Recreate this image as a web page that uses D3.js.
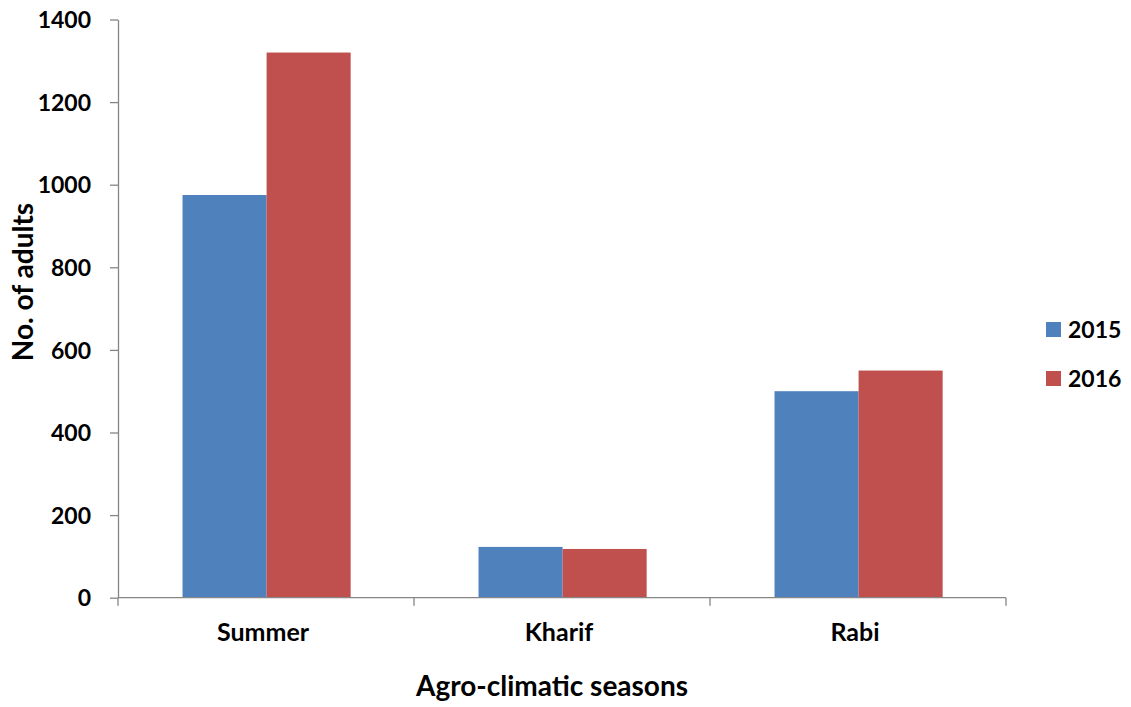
<!DOCTYPE html>
<html><head><meta charset="utf-8">
<script src="https://cdn.jsdelivr.net/npm/d3@7"></script>
<style>
html,body{margin:0;padding:0;background:#fff;}
text{font-family:Lato,"Open Sans",sans-serif;font-weight:bold;fill:#000;}
</style></head>
<body><svg id="c" width="1131" height="707"></svg>
<script>
const categories = ["Summer", "Kharif", "Rabi"];
const seriesNames = ["2015", "2016"];
const values2015 = [975, 123, 500];
const values2016 = [1320, 118, 550];
const yTicks = [0, 200, 400, 600, 800, 1000, 1200, 1400];
const colors = ["#4F81BD", "#C0504D"];

(function () {
const data = categories.map((c, i) => ({cat: c, vals: [values2015[i], values2016[i]]}));

const svg = d3.select("#c");
const mLeft = 118, mRight = 1006, mTop = 19.5, mBottom = 597.7;

const y = d3.scaleLinear().domain([0, 1400]).range([mBottom, mTop]);
const x0 = d3.scaleBand().domain(categories).range([mLeft, mRight]).padding(0);
const bw = x0.bandwidth();
const x1 = d3.scaleBand().domain(seriesNames).range([bw * 0.218, bw * 0.786]).padding(0);

// bars
const g = svg.append("g");
const groups = g.selectAll("g.grp").data(data).join("g")
  .attr("transform", d => `translate(${x0(d.cat)},0)`);
groups.selectAll("rect").data(d => d.vals.map((v, i) => ({v, s: seriesNames[i], i})))
  .join("rect")
  .attr("x", d => x1(d.s))
  .attr("width", x1.bandwidth())
  .attr("y", d => y(d.v))
  .attr("height", d => y(0) - y(d.v))
  .attr("fill", d => colors[d.i]);

// y axis
const yAxis = svg.append("g").attr("transform", `translate(${mLeft},0)`)
  .call(d3.axisLeft(y).tickValues(yTicks).tickFormat(d3.format("d")).tickSize(8).tickSizeOuter(0).tickPadding(10));
yAxis.select(".domain").attr("stroke", "#868686").attr("stroke-width", 1.3);
yAxis.selectAll(".tick line").attr("stroke", "#868686").attr("stroke-width", 1.3);
yAxis.selectAll(".tick text").style("font-size", "23px").attr("dy", "0.36em").attr("x", -27);

// x axis
const xAxis = svg.append("g").attr("transform", `translate(0,${mBottom})`);
xAxis.append("line").attr("x1", mLeft).attr("x2", mRight).attr("y1", 0).attr("y2", 0)
  .attr("stroke", "#868686").attr("stroke-width", 1.3);
const bounds = categories.map(c => x0(c)).concat([x0(categories[categories.length - 1]) + bw]);
xAxis.selectAll("line.t").data(bounds).join("line").attr("class", "t")
  .attr("x1", d => d).attr("x2", d => d).attr("y1", 0).attr("y2", 8)
  .attr("stroke", "#868686").attr("stroke-width", 1.3);
xAxis.selectAll("text.cl").data(categories).join("text").attr("class", "cl")
  .attr("x", d => x0(d) + bw / 2 - 3).attr("y", 43)
  .attr("text-anchor", "middle").style("font-size", "25px").text(d => d);

// axis titles
svg.append("text").attr("x", 552).attr("y", 696).attr("text-anchor", "middle")
  .style("font-size", "28px").text("Agro-climatic seasons");
svg.append("text").attr("transform", "translate(33,282) rotate(-90)")
  .attr("text-anchor", "middle").style("font-size", "28px").text("No. of adults");

// legend
const leg = svg.append("g");
seriesNames.forEach((s, i) => {
  const ly = 322 + i * 49;
  leg.append("rect").attr("x", 1046).attr("y", ly).attr("width", 15).attr("height", 15).attr("fill", colors[i]);
  leg.append("text").attr("x", 1068).attr("y", ly + 16).style("font-size", "23px").text(s);
});
})();
</script></body></html>
